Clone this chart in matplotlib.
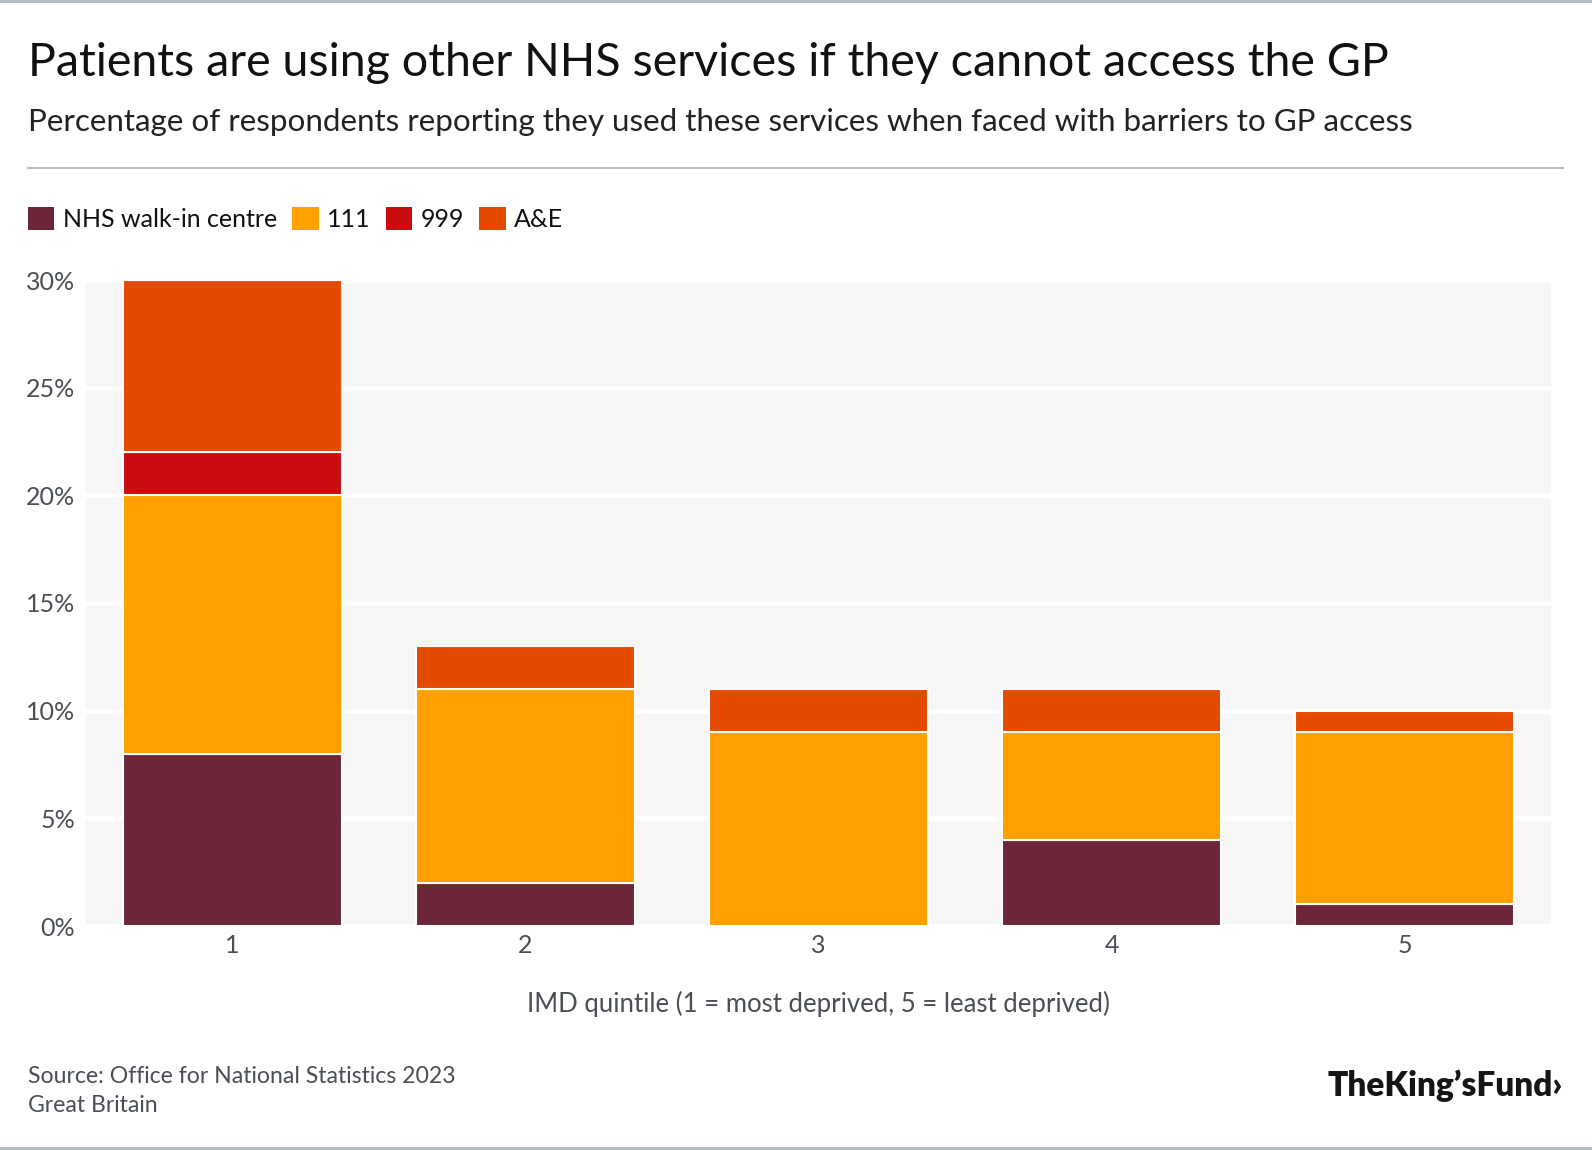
import numpy as np
import matplotlib
matplotlib.use("Agg")
import matplotlib.pyplot as plt
from matplotlib.patches import Patch
from matplotlib.lines import Line2D

plt.rcParams['font.family'] = ['Lato', 'DejaVu Sans']

quintiles = ['1', '2', '3', '4', '5']
walk_in = [8, 2, 0, 4, 1]
nhs_111 = [12, 9, 9, 5, 8]
nhs_999 = [2, 0, 0, 0, 0]
a_and_e = [8, 2, 2, 2, 1]

series = [
    ('NHS walk-in centre', walk_in, '#6c2639'),
    ('111', nhs_111, '#ff9f00'),
    ('999', nhs_999, '#c90c10'),
    ('A&E', a_and_e, '#e44a00'),
]

fig = plt.figure(figsize=(15.92, 11.5), dpi=100)
W, H = 1592, 1150

ax = fig.add_axes([86 / W, 1 - 926 / H, (1551 - 86) / W, (926 - 280) / H])
ax.set_facecolor('#f6f6f6')

x = np.arange(1, len(quintiles) + 1)
bottom = np.zeros(len(quintiles))
for name, vals, col in series:
    vals = np.array(vals, dtype=float)
    mask = vals > 0
    ax.bar(x[mask], vals[mask], width=0.75, bottom=bottom[mask], color=col,
           edgecolor='white', linewidth=1.5, zorder=3)
    bottom += vals

ax.set_xlim(0.5, 5.5)
ax.set_ylim(0, 30)
ax.set_yticks(np.arange(0, 31, 5))
ax.set_yticklabels([f'{v}%' for v in range(0, 31, 5)])
ax.set_xticks(x)
ax.set_xticklabels(quintiles)
ax.grid(axis='y', color='white', linewidth=3.5, zorder=1)
ax.set_axisbelow(True)
for s in ax.spines.values():
    s.set_visible(False)
ax.tick_params(axis='both', length=0, labelsize=18, colors='#4a4f55')
ax.tick_params(axis='y', pad=8)
ax.tick_params(axis='x', pad=6)
ax.set_xlabel('IMD quintile (1 = most deprived, 5 = least deprived)', fontsize=18.5,
              color='#4a4f55', labelpad=24)

# header
fig.text(28 / W, 1 - 76 / H, 'Patients are using other NHS services if they cannot access the GP',
         fontsize=33.6, color='#111111', va='baseline', ha='left')
fig.text(28 / W, 1 - 131 / H,
         'Percentage of respondents reporting they used these services when faced with barriers to GP access',
         fontsize=22.6, color='#222222', va='baseline', ha='left')
fig.add_artist(Line2D([28 / W, 1563 / W], [1 - 168 / H, 1 - 168 / H], color='#b4bcbf', lw=1.5))
fig.add_artist(Line2D([0, 1], [1 - 1 / H, 1 - 1 / H], color='#b4bcbf', lw=3))
fig.add_artist(Line2D([0, 1], [1.5 / H, 1.5 / H], color='#b4bcbf', lw=3))

handles = [Patch(facecolor=c, edgecolor='none') for _, _, c in series]
labels = [n for n, _, _ in series]
fig.legend(handles, labels, loc='center left', bbox_to_anchor=(18 / W, 1 - 219 / H),
           ncol=4, frameon=False, fontsize=18, handlelength=1.05, handleheight=1.05,
           handletextpad=0.35, columnspacing=0.6, borderaxespad=0, labelcolor='#111111')

# footer
fig.text(28 / W, 1 - 1083 / H, 'Source: Office for National Statistics 2023', fontsize=16.6,
         color='#4a4f55', va='baseline')
fig.text(28 / W, 1 - 1112 / H, 'Great Britain', fontsize=16.6, color='#4a4f55', va='baseline')
fig.text(1563 / W, 1 - 1096 / H, 'TheKing\u2019sFund\u203a', fontsize=24, fontweight='heavy',
         color='#151515', va='baseline', ha='right')

fig.savefig('out.png', dpi=100, facecolor='white')
